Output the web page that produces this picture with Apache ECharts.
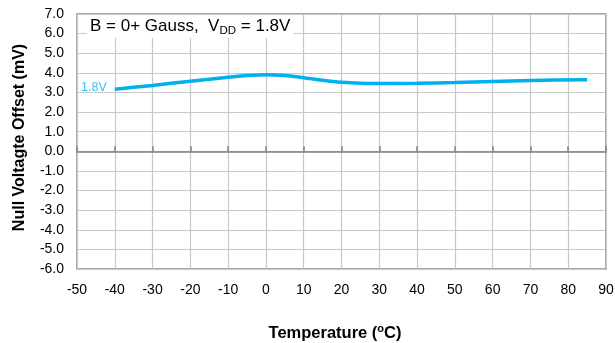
<!DOCTYPE html>
<html><head><meta charset="utf-8">
<script src="https://cdn.jsdelivr.net/npm/echarts@6/dist/echarts.min.js"></script>
<style>html,body{margin:0;padding:0;background:#fff}#c{width:615px;height:343px}</style>
</head><body><div id="c"></div>
<script>
const temps = [-40, -30, -20, -10, -5, 0, 5, 10, 15, 20, 25, 30, 40, 50, 60, 70, 85];
const offsets = [3.16, 3.36, 3.57, 3.78, 3.86, 3.90, 3.87, 3.75, 3.62, 3.52, 3.47, 3.46, 3.47, 3.51, 3.56, 3.61, 3.65];
const seriesName = '1.8V';
const xTicks = {min: -50, max: 90, interval: 10};
const yTicks = {min: -6, max: 7, interval: 1};

const chart = echarts.init(document.getElementById('c'));
const font = 'Liberation Sans, Arial, sans-serif';
chart.setOption({
  animation: false,
  grid: {left: 77, right: 9, top: 14, bottom: 74, show: true, borderColor: '#8c8c8c', borderWidth: 1.5, outerBoundsMode: 'none', containLabel: false},
  xAxis: [{
    type: 'value', min: xTicks.min, max: xTicks.max, interval: xTicks.interval, position: 'bottom',
    axisLine: {show: false, onZero: false}, axisTick: {show: false},
    axisLabel: {color: '#000', fontFamily: font, fontSize: 14, margin: 14},
    splitLine: {show: true, lineStyle: {color: '#c8c8c8', width: 1.2}},
    name: '{n|Temperature (}{s|o}{n|C)}', nameLocation: 'middle', nameGap: 54,
    nameTextStyle: {padding: [0, 13, 0, 0], rich: {
      n: {fontFamily: font, fontSize: 16.5, fontWeight: 'bold', color: '#000'},
      s: {fontFamily: font, fontSize: 11, fontWeight: 'bold', color: '#000', verticalAlign: 'bottom', padding: [0,0,9,0]}
    }}
  }, {
    type: 'value', min: xTicks.min, max: xTicks.max, interval: xTicks.interval, position: 'top',
    axisLine: {show: true, onZero: true, onZeroAxisIndex: 0, lineStyle: {color: '#808080', width: 1.5}},
    axisTick: {show: true, inside: false, length: 5, lineStyle: {color: '#808080', width: 1.5}},
    axisLabel: {show: false}, splitLine: {show: false}
  }],
  yAxis: {
    type: 'value', min: yTicks.min, max: yTicks.max, interval: yTicks.interval,
    axisLine: {show: false, onZero: false}, axisTick: {show: false},
    axisLabel: {color: '#000', fontFamily: font, fontSize: 14, margin: 13, formatter: v => v.toFixed(1)},
    splitLine: {show: true, lineStyle: {color: '#c8c8c8', width: 1.2}},
    name: 'Null Voltagte Offset (mV)', nameLocation: 'middle', nameGap: 49,
    nameTextStyle: {fontFamily: font, fontSize: 16, fontWeight: 'bold', color: '#000', padding: [0, 0, 0, 8]}
  },
  graphic: [{
    type: 'text', left: 87, top: 15, z: 100,
    style: {
      rich: {
        a: {fontFamily: font, fontSize: 17, fill: '#000'},
        b: {fontFamily: font, fontSize: 11.5, fill: '#000', verticalAlign: 'bottom', padding: [9,0,0,0]}
      },
      text: '{a|B = 0+ Gauss,  V}{b|DD}{a| = 1.8V}',
      backgroundColor: '#fff', padding: [1, 3, 1, 3]
    }
  }],
  series: [{
    name: seriesName, type: 'line', xAxisIndex: 0,
    data: temps.map((t, i) => [t, offsets[i]]),
    smooth: 0.3, showSymbol: false,
    lineStyle: {color: '#00b0f0', width: 3.5}
  }, {
    type: 'scatter', xAxisIndex: 0, symbolSize: 0, silent: true,
    data: [[temps[0], offsets[0]]],
    label: {show: true, formatter: seriesName, position: 'left', distance: 8, offset: [0, -2], color: '#00b0f0', fontFamily: font, fontSize: 12.5}
  }]
});
</script></body></html>
